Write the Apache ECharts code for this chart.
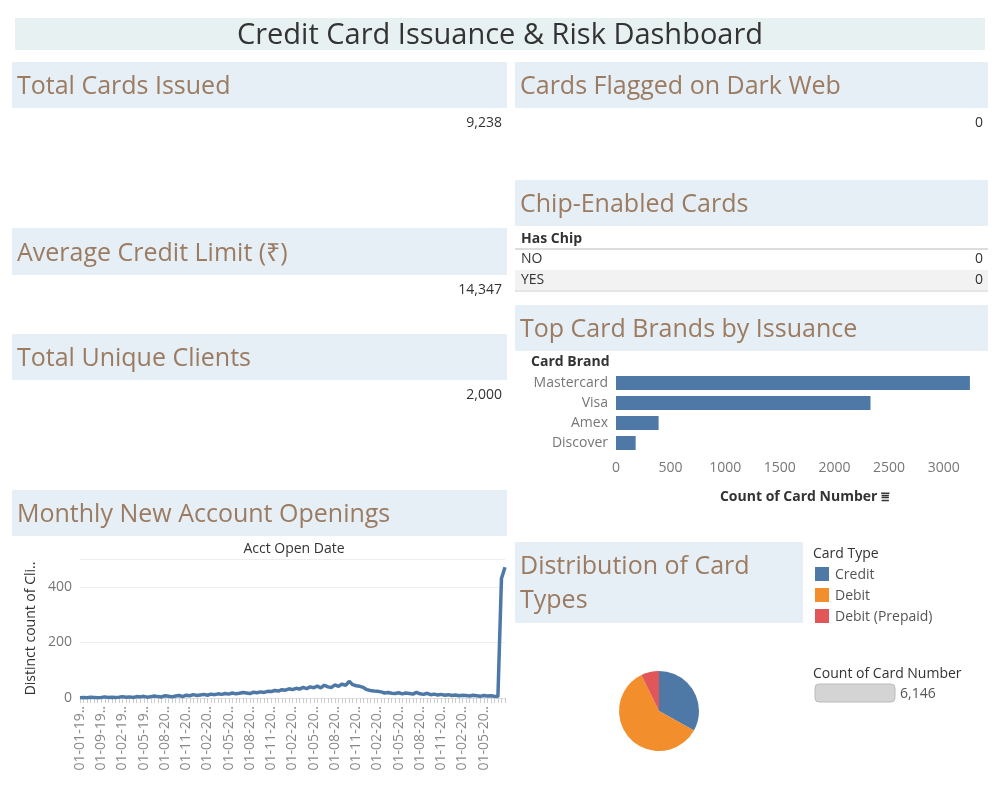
<!DOCTYPE html>
<html><head><meta charset="utf-8">
<script src="https://cdn.jsdelivr.net/npm/echarts@6/dist/echarts.min.js"></script>
<style>html,body{margin:0;padding:0;background:#fff}#c{width:1000px;height:800px}</style>
</head><body><div id="c"></div>
<script>
var brands = ['Mastercard', 'Visa', 'Amex', 'Discover'];
var brandCounts = [3240, 2330, 390, 180];
var cardTypes = ['Credit', 'Debit', 'Debit (Prepaid)'];
var cardTypeCounts = [3054, 5511, 673];
var typeColors = ['#4e79a7', '#f28e2b', '#e15759'];
var tickLabels = ['01-01-19..','01-09-19..','01-02-19..','01-05-19..','01-08-20..','01-11-20..','01-02-20..','01-05-20..','01-08-20..','01-11-20..',
  '01-02-20..','01-05-20..','01-08-20..','01-11-20..','01-02-20..','01-05-20..','01-08-20..','01-11-20..','01-02-20..','01-05-20..'];
var openings = [
  1,2,1,3,2,1,2,4,2,3, 2,3,5,3,4,2,5,4,6,3, 5,7,5,4,8,6,4,7,9,5,
  10,8,12,9,11,13,10,14,12,15, 13,16,14,18,15,17,20,18,16,21, 19,22,20,24,23,27,25,30,28,33,
  30,35,32,38,34,40,37,43,36,46, 40,38,47,42,50,45,60,48,44,42, 38,30,27,25,24,22,18,20,17,16,
  19,15,18,16,14,20,15,13,17,12, 14,11,13,10,12,9,11,8,10,9, 7,10,8,6,9,7,8,6,5,430,470
];
var cats = openings.map(function(v, i){ return 'd' + i; });

var boxFill = '#e6eff5', titleCol = '#9b7b61';
function box(x, y, w, h, text, size){
  return [
    {type:'rect', shape:{x:x, y:y, width:w, height:h}, style:{fill:boxFill}},
    {type:'text', x:x+5, y:y+h/2+2, style:{text:text, fill:titleCol, font:(size||25)+'px "Open Sans", sans-serif', verticalAlign:'middle', lineHeight:34}}
  ];
}
function txt(x, y, t, opts){
  opts = opts || {};
  return {type:'text', x:x, y:y, style:{text:t, fill:opts.color||'#333', font:(opts.weight||'normal')+' '+(opts.size||14)+'px "Open Sans", sans-serif',
    align:opts.align||'left', verticalAlign:'middle'}};
}

var g = [];
g.push({type:'rect', shape:{x:15, y:18, width:970, height:32}, style:{fill:'#e8f1f1'}});
g.push(txt(500, 36, 'Credit Card Issuance & Risk Dashboard', {size:29, align:'center', color:'#333'}));
g = g.concat(box(12, 62, 495, 46, 'Total Cards Issued'));
g.push(txt(502, 123, '9,238', {align:'right'}));
g = g.concat(box(12, 228, 495, 47, 'Average Credit Limit (₹)'));
g.push(txt(502, 290, '14,347', {align:'right'}));
g = g.concat(box(12, 334, 495, 46, 'Total Unique Clients'));
g.push(txt(502, 395, '2,000', {align:'right'}));
g = g.concat(box(12, 490, 495, 46, 'Monthly New Account Openings'));
g = g.concat(box(515, 62, 473, 46, 'Cards Flagged on Dark Web'));
g.push(txt(983, 123, '0', {align:'right'}));
g = g.concat(box(515, 180, 473, 46, 'Chip-Enabled Cards'));
g.push(txt(521, 239, 'Has Chip', {weight:'bold', size:14}));
g.push({type:'line', shape:{x1:515, y1:249, x2:988, y2:249}, style:{stroke:'#bbb'}});
g.push(txt(521, 259, 'NO', {size:14}));
g.push(txt(983, 259, '0', {align:'right'}));
g.push({type:'rect', shape:{x:515, y:270, width:473, height:20}, style:{fill:'#f2f2f2'}});
g.push({type:'line', shape:{x1:515, y1:291, x2:988, y2:291}, style:{stroke:'#ccc'}});
g.push(txt(521, 280, 'YES', {size:14}));
g.push(txt(983, 280, '0', {align:'right'}));
g = g.concat(box(515, 305, 473, 46, 'Top Card Brands by Issuance'));
g.push(txt(531, 362, 'Card Brand', {weight:'bold', size:14}));
g.push(txt(805, 497, 'Count of Card Number ⩸', {weight:'bold', size:14, align:'center'}));
g.push({type:'rect', shape:{x:515, y:542, width:288, height:81}, style:{fill:boxFill}});
g.push({type:'text', x:520, y:584, style:{text:'Distribution of Card\nTypes', fill:titleCol, font:'25px "Open Sans", sans-serif', verticalAlign:'middle', lineHeight:34}});
g.push(txt(813, 554, 'Card Type', {size:14}));
cardTypes.forEach(function(t, i){
  g.push({type:'rect', shape:{x:815, y:567+i*21, width:14, height:14}, style:{fill:typeColors[i]}});
  g.push(txt(835, 575+i*21, t, {size:14, color:'#555'}));
});
g.push(txt(813, 674, 'Count of Card Number', {size:14}));
g.push({type:'rect', shape:{x:815, y:684, width:80, height:18, r:4}, style:{fill:'#d4d4d4', stroke:'#bbb'}});
g.push(txt(900, 694, '6,146', {size:14, color:'#555'}));
g.push(txt(294, 549, 'Acct Open Date', {size:14, align:'center'}));

var chart = echarts.init(document.getElementById('c'));
chart.setOption({
  animation: false,
  textStyle: {fontFamily: '"Open Sans", sans-serif'},
  graphic: g,
  grid: [
    {left:616, top:373, width:355, height:80},
    {left:80, top:559, width:425, height:139}
  ],
  xAxis: [
    {gridIndex:0, type:'value', min:0, max:3250, interval:500,
     axisLabel:{color:'#777', fontSize:14, showMaxLabel:false, formatter:function(v){ return String(v); }},
     splitLine:{show:false}, axisLine:{show:false}, axisTick:{show:false}},
    {gridIndex:1, type:'category', data:cats, boundaryGap:false,
     axisLabel:{rotate:90, fontSize:14, color:'#888', interval:0,
       formatter:function(v, i){ return i % 6 === 0 ? tickLabels[i/6] : ''; }},
     axisTick:{show:true, interval:0, lineStyle:{color:'#ccc'}}, axisLine:{lineStyle:{color:'#ddd', type:'dotted'}}}
  ],
  yAxis: [
    {gridIndex:0, type:'category', data:brands, inverse:true, axisLabel:{color:'#777', fontSize:14},
     axisLine:{show:false}, axisTick:{show:false}},
    {gridIndex:1, type:'value', min:0, max:500, interval:200, name:'Distinct count of Cli..', nameLocation:'middle', nameGap:42,
     nameTextStyle:{fontSize:14, color:'#333'}, axisLabel:{color:'#777', fontSize:14, showMaxLabel:false},
     splitLine:{lineStyle:{color:'#eee'}}, axisLine:{show:false}}
  ],
  series: [
    {type:'bar', xAxisIndex:0, yAxisIndex:0, data:brandCounts, barWidth:14, itemStyle:{color:'#4e79a7'}},
    {type:'line', xAxisIndex:1, yAxisIndex:1, data:openings, showSymbol:false, lineStyle:{color:'#4e79a7', width:3.5}},
    {type:'pie', center:[659, 711], radius:40, startAngle:90, label:{show:false},
     data:cardTypes.map(function(t, i){ return {name:t, value:cardTypeCounts[i], itemStyle:{color:typeColors[i]}}; })}
  ]
});
</script></body></html>
